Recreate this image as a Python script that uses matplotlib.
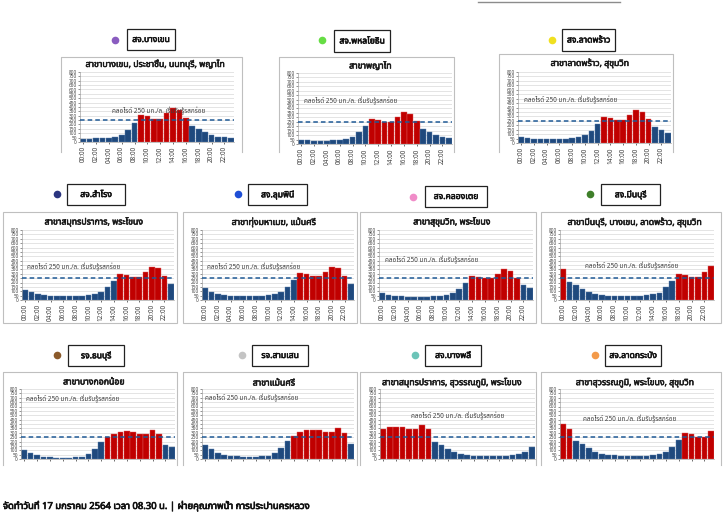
import matplotlib
matplotlib.use("Agg")
import matplotlib.pyplot as plt
from matplotlib import font_manager as fm
from matplotlib.ft2font import FT2Font
from matplotlib.patches import Rectangle
from matplotlib.lines import Line2D
import matplotlib.patheffects as pe
import numpy as np

# ---------------- data ----------------
hours = ["00:00", "01:00", "02:00", "03:00", "04:00", "05:00", "06:00", "07:00",
         "08:00", "09:00", "10:00", "11:00", "12:00", "13:00", "14:00", "15:00",
         "16:00", "17:00", "18:00", "19:00", "20:00", "21:00", "22:00", "23:00"]

stations = ["สจ.บางเขน", "สจ.พหลโยธิน", "สจ.ลาดพร้าว", "สจ.สำโรง", "สจ.ลุมพินี",
            "สจ.คลองเตย", "สจ.มีนบุรี", "รจ.ธนบุรี", "รจ.สามเสน", "สจ.บางพลี",
            "สจ.ลาดกระบัง"]

titles = ["สาขาบางเขน, ประชาชื่น, นนทบุรี, พญาไท",
          "สาขาพญาไท",
          "สาขาลาดพร้าว, สุขุมวิท",
          "สาขาสมุทรปราการ, พระโขนง",
          "สาขาทุ่งมหาเมฆ, แม้นศรี",
          "สาขาสุขุมวิท, พระโขนง",
          "สาขามีนบุรี, บางเขน, ลาดพร้าว, สุขุมวิท",
          "สาขาบางกอกน้อย",
          "สาขาแม้นศรี",
          "สาขาสมุทรปราการ, สุวรรณภูมิ, พระโขนง",
          "สาขาสุวรรณภูมิ, พระโขนง, สุขุมวิท"]

dot_colors = ["#8a5cc0", "#66dd44", "#f0e020", "#2b3580", "#1f4fd6", "#f08cc8",
              "#3f7f2a", "#8b5a2b", "#c4c4c4", "#6cc4b8", "#f39a4a"]

bangkhen     = [32, 32, 40, 44, 48, 56, 85, 141, 218, 306, 294, 266, 258, 330, 383, 363, 270, 181, 149, 109, 81, 60, 52, 44]
phahon       = [44, 40, 37, 37, 37, 40, 44, 55, 77, 132, 202, 283, 272, 252, 252, 305, 360, 342, 255, 173, 140, 107, 77, 62]
ladprao      = [66, 55, 48, 44, 40, 40, 44, 44, 51, 62, 88, 140, 210, 290, 279, 254, 254, 312, 368, 349, 265, 180, 147, 110]
samrong      = [120, 92, 70, 58, 50, 46, 45, 45, 45, 50, 58, 65, 88, 146, 220, 300, 288, 265, 258, 315, 380, 362, 270, 185]
lumphini     = [138, 96, 73, 58, 50, 46, 46, 46, 46, 50, 54, 65, 88, 150, 223, 308, 296, 273, 269, 323, 381, 369, 277, 188]
khlongtoei   = [83, 62, 50, 43, 40, 40, 40, 40, 42, 45, 54, 80, 130, 200, 280, 265, 252, 250, 293, 350, 333, 252, 170, 138]
minburi      = [357, 210, 170, 130, 87, 63, 52, 48, 44, 44, 44, 44, 48, 52, 63, 83, 147, 218, 300, 290, 265, 262, 325, 385]
thonburi     = [105, 68, 41, 26, 19, 15, 15, 15, 19, 26, 56, 116, 195, 252, 285, 308, 320, 308, 290, 290, 335, 290, 162, 132]
samsen       = [162, 116, 73, 50, 35, 31, 27, 27, 27, 31, 39, 66, 131, 208, 266, 305, 328, 336, 328, 309, 305, 351, 301, 174]
bangphli     = [344, 363, 371, 363, 347, 344, 394, 344, 200, 162, 120, 81, 54, 42, 35, 31, 31, 31, 31, 35, 46, 58, 77, 135]
latkrabang   = [405, 347, 208, 166, 124, 85, 58, 46, 42, 35, 35, 35, 39, 39, 46, 58, 85, 139, 212, 293, 282, 255, 255, 317]

series = [bangkhen, phahon, ladprao, samrong, lumphini, khlongtoei, minburi,
          thonburi, samsen, bangphli, latkrabang]

threshold = 250
note = "คลอไรด์ 250 มก./ล. เริ่มรับรู้รสกร่อย"
footer = "จัดทำวันที่ 17 มกราคม 2564 เวลา 08.30 น. | ฝ่ายคุณภาพน้ำ การประปานครหลวง"

# ---------------- fonts ----------------
def find_thai():
    prefer = ["Noto Sans Thai", "Noto Sans Thai UI", "Loma", "Garuda", "Tahoma",
              "Sarabun", "Umpush", "Waree", "Kinnari", "Norasi", "Laksaman",
              "Tlwg Typo", "Noto Looped Thai", "Noto Serif Thai"]
    found = {}
    for p in set(fm.findSystemFonts()):
        try:
            cm = FT2Font(p).get_charmap()
        except Exception:
            continue
        if 0x0E01 in cm and 0x0E32 in cm and 0x0E48 in cm:
            try:
                fm.fontManager.addfont(p)
                name = fm.FontProperties(fname=p).get_name()
            except Exception:
                continue
            found.setdefault(name, []).append(p)
    for n in prefer:
        if n in found:
            return n
    return next(iter(found), None)

thai = find_thai()
fams = ([thai] if thai else []) + ["DejaVu Sans"]
plt.rcParams["font.family"] = fams

def boldfx(c, w=0.45):
    return [pe.withStroke(linewidth=w, foreground=c)]

# ---------------- layout (pixel geometry) ----------------
W, H = 728, 530
fig = plt.figure(figsize=(7.28, 5.30), dpi=100)
fig.patch.set_facecolor("white")

def fx(x): return x / W
def fy(y): return 1 - y / H

# axes box: x0, x1, ytop(800), ybottom(0)
axes_px = [(80, 234, 72, 142), (298, 452, 73, 144), (518, 671, 72, 143),
           (22, 174, 230, 300), (202, 354, 230, 300), (379, 533, 230, 300), (560, 714, 230, 300),
           (21, 175, 389, 459), (202, 354, 389, 459), (380, 535, 389, 459), (560, 714, 389, 459)]
# panel frame: x0, x1, ytop, ybottom, closed bottom?
frames = [(61, 242, 57, 152, False), (279, 454, 57, 152, False), (499, 673, 54, 152, False),
          (3, 177, 212, 323, True), (183, 357, 212, 323, True), (360, 536, 212, 323, True), (541, 721, 212, 323, True),
          (3, 177, 372, 465, False), (183, 357, 372, 465, False), (360, 536, 372, 465, False), (541, 721, 372, 465, False)]
title_y = [64, 66, 63, 222, 222, 222, 222, 382, 383, 383, 383]
# legend: dot x, dot y, box x0, x1, y0, y1
legend_px = [(115, 40, 127, 175, 29, 50), (322, 40, 334, 390, 30, 52), (552, 40, 562, 615, 29, 51),
             (57, 194, 67, 125, 184, 205), (238, 194, 248, 307, 184, 205), (413, 197, 425, 487, 186, 207), (590, 194, 601, 660, 184, 205),
             (57, 355, 68, 124, 345, 366), (242, 355, 252, 308, 345, 366), (415, 355, 425, 481, 345, 366), (595, 355, 605, 661, 345, 366)]
# annotation: x (axes fraction), y (axes fraction)
note_pos = [(0.21, 0.385), (0.04, 0.55), (0.04, 0.54),
            (0.03, 0.415), (0.03, 0.415), (0.04, 0.515), (0.16, 0.43),
            (0.03, 0.80), (0.02, 0.81), (0.20, 0.55), (0.15, 0.51)]

blue = "#1f497d"
red = "#c00000"

for i, vals in enumerate(series):
    x0, x1, yt, yb = axes_px[i]
    ax = fig.add_axes([fx(x0), fy(yb), (x1 - x0) / W, (yb - yt) / H])
    ax.set_facecolor("white")
    cols = [red if v >= threshold else blue for v in vals]
    edges = ["#e06060" if v >= threshold else "#5b7fae" for v in vals]
    ax.bar(np.arange(len(hours)), vals, width=0.88, color=cols, edgecolor=edges,
           linewidth=0.3, zorder=2)
    ax.axhline(threshold, color="#1f5a96", lw=1.1, ls=(0, (3, 2)), zorder=3,
               clip_on=False)
    ax.set_xlim(-0.5, len(hours) - 0.5)
    ax.set_ylim(0, 800)
    ax.set_yticks(np.arange(0, 801, 50))
    ax.tick_params(axis="y", labelsize=3.4, length=1.5, width=0.4, pad=0.8,
                   colors="#404040")
    ax.yaxis.grid(True, color="#d9d9d9", lw=0.5, zorder=0)
    ax.set_axisbelow(True)
    ax.set_xticks(np.arange(0, len(hours), 2))
    if i < 7:
        ax.set_xticklabels(hours[::2], rotation=90, fontsize=4.6, color="#404040")
    else:
        ax.set_xticklabels([])
    ax.tick_params(axis="x", length=1.5, width=0.4, pad=1.5)
    for s in ["top", "right"]:
        ax.spines[s].set_visible(False)
    for s in ["left", "bottom"]:
        ax.spines[s].set_color("#a6a6a6")
        ax.spines[s].set_linewidth(0.5)
    nx, ny = note_pos[i]
    ax.text(nx, ny, note, transform=ax.transAxes, fontsize=4.6, color="#404040",
            style="italic", va="bottom", ha="left", zorder=4)

    # frame
    fx0, fx1, fyt, fyb, closed = frames[i]
    if closed:
        fig.patches.append(Rectangle((fx(fx0), fy(fyb)), (fx1 - fx0) / W, (fyb - fyt) / H,
                                     transform=fig.transFigure, fill=False,
                                     edgecolor="#bfbfbf", lw=0.8, zorder=0))
    else:
        fig.add_artist(Line2D([fx(fx0), fx(fx0), fx(fx1), fx(fx1)],
                              [fy(fyb), fy(fyt), fy(fyt), fy(fyb)],
                              transform=fig.transFigure, color="#bfbfbf", lw=0.8, zorder=0))
    # title
    fig.text(fx((fx0 + fx1) / 2 + 4), fy(title_y[i]), titles[i], ha="center", va="center",
             fontsize=6.3, fontweight="bold", color="#1a1a1a",
             path_effects=boldfx("#1a1a1a", 0.4))
    # legend tag
    dx, dy, bx0, bx1, by0, by1 = legend_px[i]
    fig.add_artist(Line2D([fx(dx)], [fy(dy)], marker="o", ms=5.5, color=dot_colors[i],
                          markeredgewidth=0, transform=fig.transFigure))
    fig.patches.append(Rectangle((fx(bx0), fy(by1)), (bx1 - bx0) / W, (by1 - by0) / H,
                                 transform=fig.transFigure, facecolor="white",
                                 edgecolor="#222222", lw=0.9))
    fig.text(fx((bx0 + bx1) / 2), fy((by0 + by1) / 2), stations[i], ha="center",
             va="center", fontsize=6.2, fontweight="bold", color="#111111",
             path_effects=boldfx("#111111", 0.4))

fig.add_artist(Line2D([fx(478), fx(620)], [fy(2), fy(2)], transform=fig.transFigure,
                      color="#8c8c8c", lw=1.0))
fig.text(fx(3), fy(506), footer, ha="left", va="center", fontsize=6.8,
         fontweight="bold", color="#111111", path_effects=boldfx("#111111", 0.5))

fig.savefig("out.png", dpi=100, facecolor="white")
